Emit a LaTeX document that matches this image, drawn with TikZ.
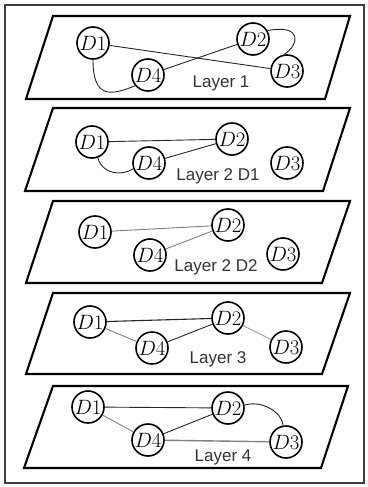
\documentclass[tikz,border=0pt]{standalone}
\usepackage{fontspec}
\newfontfamily\labfont{Liberation Sans}
\begin{document}
\begin{tikzpicture}[x=1pt,y=-1pt,
  plane/.style={line width=2.1pt, line join=miter},
  dn/.style={circle, draw, fill=white, line width=1.6pt, minimum size=32pt, inner sep=0pt, font=\fontsize{20.5}{20}\selectfont},
  lab/.style={font=\labfont\fontsize{17}{17}\selectfont, text=black!80, inner sep=0pt},
  e/.style={line width=0.9pt, black!85},
  eg/.style={line width=0.9pt, black!50},
  elg/.style={line width=0.9pt, black!35}]
\useasboundingbox (0,0) rectangle (367,487);
\draw[line width=1.5pt, black!75] (5,5) rectangle (364,483);

% Layer 1
\draw[plane] (53,16) -- (350,16) -- (325,99) -- (26,99) -- cycle;
\node[dn] (a1) at (93,43) {$D1$};
\node[dn] (a2) at (253,39) {$D2$};
\node[dn] (a3) at (287,71) {$D3$};
\node[dn] (a4) at (148,75) {$D4$};
\node[lab] (la) at (221,83) {Layer 1};
\draw[e] (a1) -- (a3);
\draw[e] (a4) -- (a2);
\draw[e] (a1.south) .. controls (93,100) and (112,95) .. (a4.220);
\draw[e] (a2.30) .. controls (302,24) and (300,44) .. (a3.100);

% Layer 2 D1
\draw[plane] (53,108) -- (350,108) -- (323,191) -- (25,191) -- cycle;
\node[dn] (b1) at (92,142) {$D1$};
\node[dn] (b2) at (232,139) {$D2$};
\node[dn] (b3) at (287,163) {$D3$};
\node[dn] (b4) at (149,163) {$D4$};
\node[lab] (lb) at (218,176) {Layer 2 D1};
\draw[e] (b1) -- (b2);
\draw[e] (b4) -- (b2);
\draw[e] (b1.290) .. controls (103,175) and (122,176) .. (b4.200);

% Layer 2 D2
\draw[plane] (53,201) -- (350,201) -- (322,283) -- (26,283) -- cycle;
\node[dn] (c1) at (95,232) {$D1$};
\node[dn] (c2) at (228,225) {$D2$};
\node[dn] (c3) at (283,254) {$D3$};
\node[dn] (c4) at (150,255) {$D4$};
\node[lab] (lc) at (216,267) {Layer 2 D2};
\draw[eg] (c1) -- (c2);
\draw[eg] (c4) -- (c2);

% Layer 3
\draw[plane] (53,293) -- (350,293) -- (322,374) -- (26,374) -- cycle;
\node[dn] (d1) at (90,322) {$D1$};
\node[dn] (d2) at (228,318) {$D2$};
\node[dn] (d3) at (286,347) {$D3$};
\node[dn] (d4) at (152,348) {$D4$};
\node[lab] (ld) at (218,359) {Layer 3};
\draw[e, line width=1.1pt] (d1) -- (d2);
\draw[e] (d4) -- (d2);
\draw[eg] (d1) -- (d4);
\draw[elg] (d2) -- (d3);

% Layer 4
\draw[plane] (53,386) -- (348,386) -- (321,468) -- (24,468) -- cycle;
\node[dn] (f1) at (88,407) {$D1$};
\node[dn] (f2) at (228,408) {$D2$};
\node[dn] (f3) at (286,442) {$D3$};
\node[dn] (f4) at (148,440) {$D4$};
\node[lab] (lf) at (223,457) {Layer 4};
\draw[e] (f1) -- (f2);
\draw[eg] (f1) -- (f4);
\draw[e] (f4) -- (f2);
\draw[eg, line width=1.4pt] (f4) -- (f3);
\draw[e] (f2.10) .. controls (262,400) and (282,412) .. (f3.100);
\end{tikzpicture}
\end{document}
